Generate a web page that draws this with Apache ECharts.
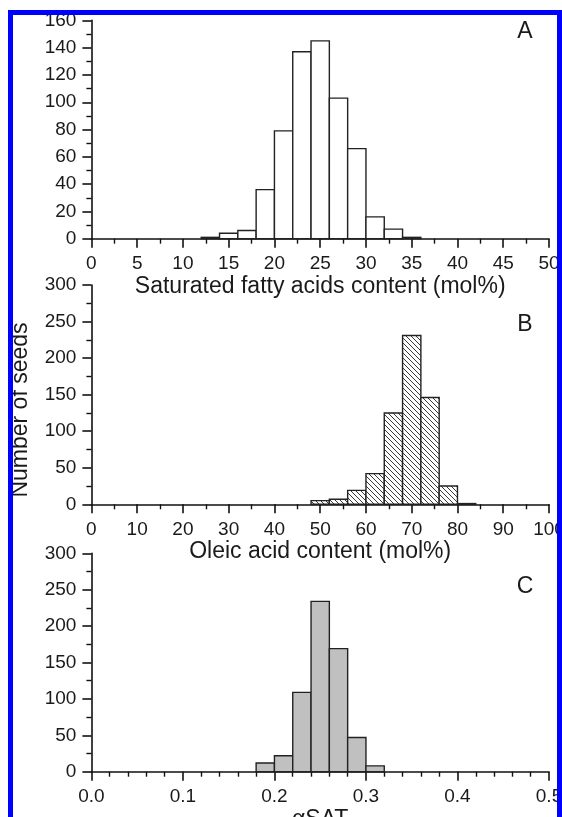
<!DOCTYPE html>
<html>
<head>
<meta charset="utf-8">
<script src="https://cdn.jsdelivr.net/npm/echarts@6/dist/echarts.min.js"></script>
<style>
  html, body { margin: 0; padding: 0; background: #fff; }
  #chart { width: 562px; height: 817px; }
</style>
</head>
<body>
<div id="chart"></div>
<script>
// ---- Data ----
const binStartA = [12, 14, 16, 18, 20, 22, 24, 26, 28, 30, 32, 34];
const countsA   = [1, 4, 6, 36, 79, 137, 145, 103, 66, 16, 7, 1];
const binWidthA = 2;

const binStartB = [48, 52, 56, 60, 64, 68, 72, 76, 80];
const countsB   = [5, 7, 19, 42, 125, 231, 146, 25, 1];
const binWidthB = 4;

const binStartC = [0.18, 0.20, 0.22, 0.24, 0.26, 0.28, 0.30];
const countsC   = [12, 22, 109, 234, 169, 47, 8];
const binWidthC = 0.02;

// tick ranges [min, max, interval]
const xTicksA = [0, 50, 5];
const yTicksA = [0, 160, 20];
const xTicksB = [0, 100, 10];
const yTicksB = [0, 300, 50];
const xTicksC = [0, 0.5, 0.1];
const yTicksC = [0, 300, 50];

const xTitleA = 'Saturated fatty acids content (mol%)';
const xTitleB = 'Oleic acid content (mol%)';
const xTitleC = 'αSAT';
const yTitle  = 'Number of seeds';
const panelLabels = ['A', 'B', 'C'];

// ---- Styling ----
const FONT = 'Liberation Sans, Arial, Helvetica, sans-serif';
const TXT = '#1a1a1a';
const AX = '#111';
const TICK_FS = 19;
const TITLE_FS = 23;

function hatchPattern() {
  const n = 5;
  const c = document.createElement('canvas');
  c.width = n; c.height = n;
  const g = c.getContext('2d');
  g.fillStyle = '#fff';
  g.fillRect(0, 0, n, n);
  g.strokeStyle = '#3a3a3a';
  g.lineWidth = 1;
  g.beginPath();
  for (const k of [-n, 0, n]) { g.moveTo(k, 0); g.lineTo(k + n, n); }
  g.stroke();
  return { image: c, repeat: 'repeat' };
}

function toBins(starts, counts, w) {
  return starts.map((s, i) => [s, +(s + w).toFixed(6), counts[i]]);
}

function histSeries(idx, data, fill) {
  return {
    type: 'custom',
    xAxisIndex: idx, yAxisIndex: idx,
    data: data,
    encode: { x: [0, 1], y: 2 },
    renderItem: function (params, api) {
      const p0 = api.coord([api.value(0), api.value(2)]);
      const p1 = api.coord([api.value(1), 0]);
      return {
        type: 'rect',
        shape: { x: p0[0], y: p0[1], width: p1[0] - p0[0], height: p1[1] - p0[1] },
        style: { fill: fill, stroke: '#222', lineWidth: 1.4 }
      };
    }
  };
}

function xAxis(idx, ticks, name, gap, fmt, minorSplit) {
  return {
    type: 'value', gridIndex: idx,
    min: ticks[0], max: ticks[1], interval: ticks[2],
    name: name, nameLocation: 'middle', nameGap: gap,
    nameTextStyle: { fontFamily: FONT, fontSize: TITLE_FS, color: TXT },
    axisLine: { show: true, onZero: false, lineStyle: { color: AX, width: 1.6 } },
    axisTick: { show: true, length: 9, lineStyle: { color: AX, width: 1.6 } },
    minorTick: { show: true, splitNumber: minorSplit, length: 5, lineStyle: { color: AX, width: 1.4 } },
    splitLine: { show: false },
    axisLabel: { fontFamily: FONT, fontSize: TICK_FS, color: TXT, margin: 16,
      formatter: fmt || (v => String(v)) }
  };
}

function yAxis(idx, ticks) {
  return {
    type: 'value', gridIndex: idx,
    min: ticks[0], max: ticks[1], interval: ticks[2],
    axisLine: { show: true, lineStyle: { color: AX, width: 1.6 } },
    axisTick: { show: true, length: 9, lineStyle: { color: AX, width: 1.6 } },
    minorTick: { show: true, splitNumber: 2, length: 5, lineStyle: { color: AX, width: 1.4 } },
    splitLine: { show: false },
    axisLabel: { fontFamily: FONT, fontSize: TICK_FS, color: TXT, margin: 15 }
  };
}

const chart = echarts.init(document.getElementById('chart'), null, { renderer: 'canvas' });

const gridBase = { left: 91.4, right: 13, containLabel: false, outerBoundsMode: 'none' };

const option = {
  backgroundColor: '#fff',
  animation: false,
  grid: [
    Object.assign({}, gridBase, { top: 20.4, height: 218.3 }),
    Object.assign({}, gridBase, { top: 285, height: 219.3 }),
    Object.assign({}, gridBase, { top: 553.3, height: 218.4 })
  ],
  xAxis: [
    xAxis(0, xTicksA, xTitleA, 36, null, 2),
    xAxis(1, xTicksB, xTitleB, 32, null, 2),
    xAxis(2, xTicksC, xTitleC, 36, v => v.toFixed(1), 5)
  ],
  yAxis: [ yAxis(0, yTicksA), yAxis(1, yTicksB), yAxis(2, yTicksC) ],
  series: [
    histSeries(0, toBins(binStartA, countsA, binWidthA), '#ffffff'),
    histSeries(1, toBins(binStartB, countsB, binWidthB), hatchPattern()),
    histSeries(2, toBins(binStartC, countsC, binWidthC), '#c0c0c0')
  ],
  graphic: [
    { type: 'text', x: 525, y: 32, style: { text: panelLabels[0], font: '23px ' + FONT, fill: TXT, align: 'center', verticalAlign: 'middle' } },
    { type: 'text', x: 525, y: 325, style: { text: panelLabels[1], font: '23px ' + FONT, fill: TXT, align: 'center', verticalAlign: 'middle' } },
    { type: 'text', x: 525, y: 587, style: { text: panelLabels[2], font: '23px ' + FONT, fill: TXT, align: 'center', verticalAlign: 'middle' } },
    { type: 'text', x: 21, y: 410, rotation: Math.PI / 2,
      style: { text: yTitle, font: TITLE_FS + 'px ' + FONT, fill: TXT, align: 'center', verticalAlign: 'middle' } },
    // blue frame
    { type: 'rect', z: 100, shape: { x: 0, y: 0, width: 562, height: 10 }, style: { fill: '#fff' } },
    { type: 'rect', z: 100, shape: { x: 0, y: 0, width: 8, height: 817 }, style: { fill: '#fff' } },
    { type: 'rect', z: 101, shape: { x: 8, y: 10, width: 554, height: 5 }, style: { fill: '#0000ff' } },
    { type: 'rect', z: 101, shape: { x: 8, y: 10, width: 5, height: 807 }, style: { fill: '#0000ff' } },
    { type: 'rect', z: 101, shape: { x: 557, y: 10, width: 5, height: 807 }, style: { fill: '#0000ff' } }
  ]
};
chart.setOption(option);
</script>
</body>
</html>
